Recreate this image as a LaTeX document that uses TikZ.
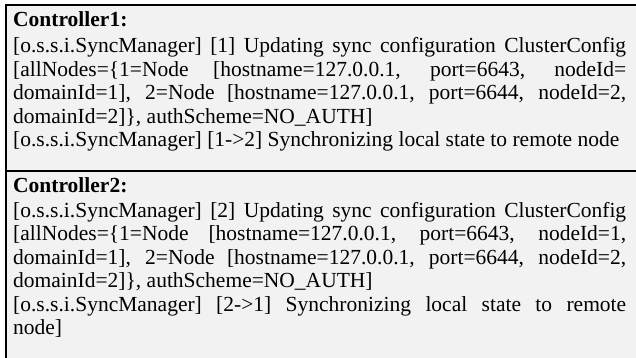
\documentclass[tikz,border=0pt]{standalone}
\usepackage{fontspec}
\setmainfont{Liberation Serif}
\definecolor{logbg}{HTML}{F2F2F2}
\tikzset{
    loghead/.style={anchor=base west,inner sep=0pt,font=\fontsize{21.5}{23.5}\selectfont\bfseries},
    logtext/.style={anchor=base west,inner sep=0pt,text width=613pt,align=justify,font=\fontsize{21.5}{23.5}\selectfont}
}
\begin{document}
\begin{tikzpicture}[x=1pt,y=-1pt]

\useasboundingbox (0,0) rectangle (636,358);
\clip (0,0) rectangle (636,358);
% \draw[step=20pt,gray,very thin] (0,0) grid (636,358);
        \fill[logbg] (6,5) rectangle (650,370);
        \draw[line width=2pt] (650,5) -- (6,5) -- (6,370);
        \draw[line width=2pt] (6,171) -- (650,171);

        \node (head1) [loghead] at (13,27) {Controller1:};
        \node (body1) [logtext] at (13,53) {[o.s.s.i.SyncManager] [1] Updating sync configuration ClusterConfig\linebreak{}[allNodes=\{1=Node [hostname=127.0.0.1, port=6643, nodeId=\linebreak{}domainId=1], 2=Node [hostname=127.0.0.1, port=6644, nodeId=2,\linebreak{}domainId=2]\}, authScheme=NO\_AUTH]\\{}[o.s.s.i.SyncManager] [1->2] Synchronizing local state to remote node};

        \node (head2) [loghead] at (13,192) {Controller2:};
        \node (body2) [logtext] at (13,217) {[o.s.s.i.SyncManager] [2] Updating sync configuration ClusterConfig\linebreak{}[allNodes=\{1=Node [hostname=127.0.0.1, port=6643, nodeId=1,\linebreak{}domainId=1], 2=Node [hostname=127.0.0.1, port=6644, nodeId=2,\linebreak{}domainId=2]\}, authScheme=NO\_AUTH]\\{}[o.s.s.i.SyncManager] [2->1] Synchronizing local state to remote\linebreak{}node]};

    \end{tikzpicture}
\end{document}
